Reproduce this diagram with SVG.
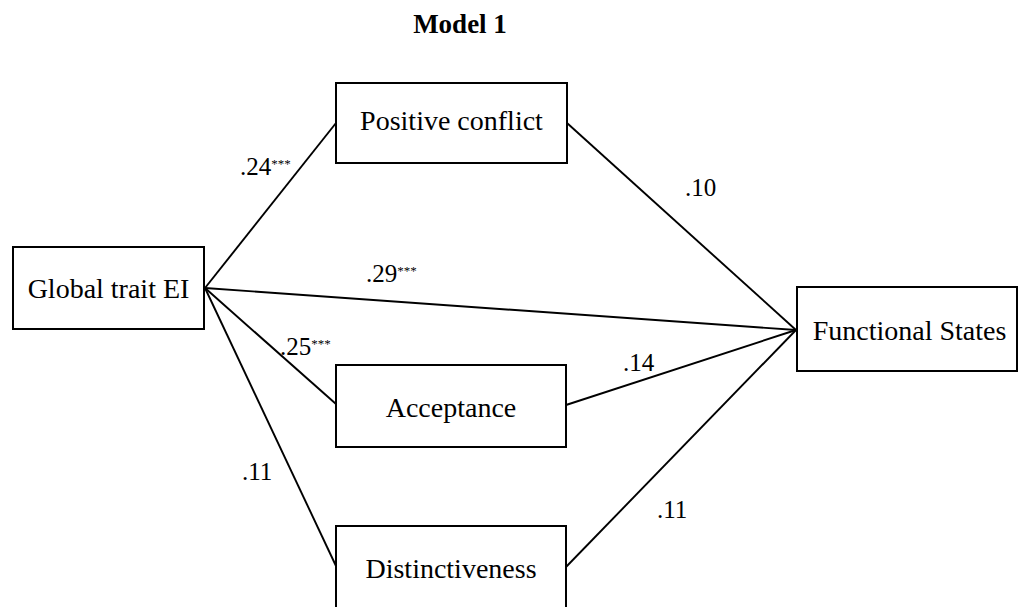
<svg xmlns="http://www.w3.org/2000/svg" width="1019" height="607" viewBox="0 0 1019 607">
<style>
.box{fill:#fff;stroke:#000;stroke-width:2}
text{font-family:'Liberation Serif','Times New Roman','DejaVu Serif',serif;fill:#000}
.t{font-size:28px;text-anchor:middle}
.lbl{font-size:25px}
.sup{font-size:13px}
.ln{stroke:#000;stroke-width:1.9;fill:none}
.title{font-size:27px;font-weight:bold;text-anchor:middle}
</style>
<rect width="1019" height="607" fill="#fff"/>
<text class="title" x="460" y="33">Model 1</text>
<g id="connectors">
<line class="ln" x1="205" y1="288" x2="336" y2="123"/>
<line class="ln" x1="205" y1="288" x2="796" y2="330"/>
<line class="ln" x1="205" y1="288" x2="336" y2="404"/>
<line class="ln" x1="205" y1="288" x2="336" y2="566"/>
<line class="ln" x1="567" y1="123" x2="796" y2="330"/>
<line class="ln" x1="566" y1="405" x2="796" y2="330"/>
<line class="ln" x1="566" y1="567" x2="796" y2="330"/>
<text class="lbl" x="240" y="175">.24<tspan class="sup" dy="-7">***</tspan></text>
<text class="lbl" x="685" y="196">.10</text>
<text class="lbl" x="366" y="282">.29<tspan class="sup" dy="-7">***</tspan></text>
<text class="lbl" x="280" y="355">.25<tspan class="sup" dy="-7">***</tspan></text>
<text class="lbl" x="623" y="371">.14</text>
<text class="lbl" x="242" y="480">.11</text>
<text class="lbl" x="657" y="518">.11</text>
</g>
<g id="global">
<rect class="box" x="13" y="247" width="191" height="82"/>
<text class="t" x="108.5" y="298">Global trait EI</text>
</g>
<g id="positive">
<rect class="box" x="336" y="83" width="231" height="80"/>
<text class="t" x="451.5" y="130">Positive conflict</text>
</g>
<g id="acceptance">
<rect class="box" x="336" y="365" width="230" height="82"/>
<text class="t" x="451" y="417">Acceptance</text>
</g>
<g id="distinctiveness">
<rect class="box" x="336" y="526" width="230" height="100"/>
<text class="t" x="451" y="578">Distinctiveness</text>
</g>
<g id="functional">
<rect class="box" x="797" y="287" width="220" height="84"/>
<text class="t" x="909.5" y="340">Functional States</text>
</g>
</svg>
